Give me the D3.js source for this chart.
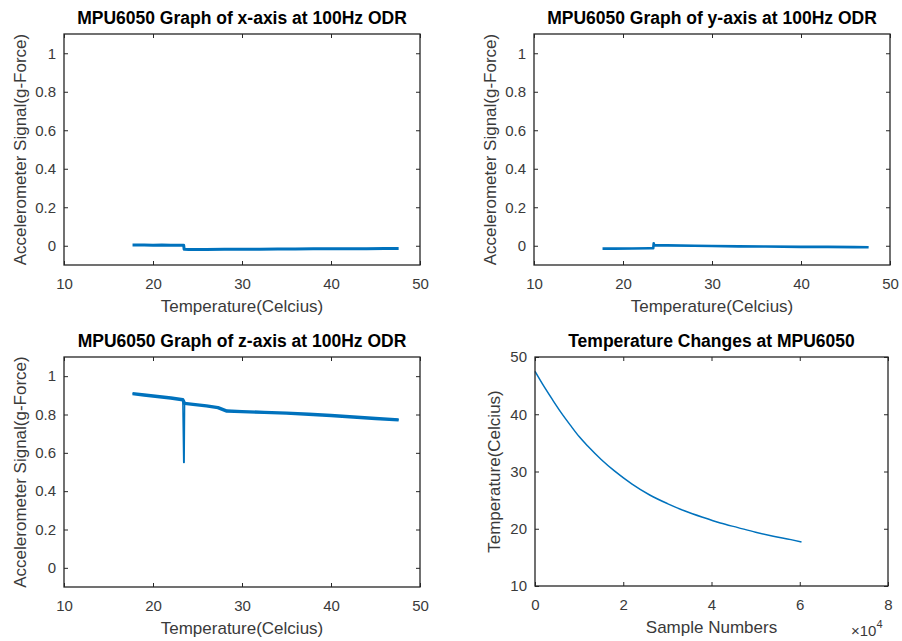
<!DOCTYPE html>
<html>
<head>
<meta charset="utf-8">
<script src="https://cdn.jsdelivr.net/npm/d3@7"></script>
<style>
  html, body { margin: 0; padding: 0; background: #fff; }
  svg { display: block; }
  text { font-family: "Liberation Sans", Arial, Helvetica, sans-serif; }
</style>
</head>
<body>
<svg id="chart" width="902" height="641"></svg>
<script>
// ---------- data ----------
const tempX = [17.7, 19, 20, 21, 22, 23, 23.45, 23.5, 24, 26, 28, 30, 32, 34, 36, 38, 40, 42, 44, 46, 47.6];
const valX  = [0.004, 0.004, 0.003, 0.004, 0.003, 0.002, 0.002, -0.018, -0.019, -0.019, -0.018, -0.018, -0.018, -0.017, -0.017, -0.016, -0.016, -0.015, -0.015, -0.014, -0.014];

const tempY = [17.7, 19, 21, 23, 23.4, 23.45, 23.5, 23.55, 25, 28, 30, 33, 36, 40, 43, 46, 47.6];
const valY  = [-0.015, -0.015, -0.014, -0.013, -0.013, 0.013, 0.002, 0.003, 0.002, 0.0, -0.001, -0.003, -0.004, -0.006, -0.006, -0.007, -0.008];

const tempZ = [17.7, 19, 20.5, 22, 23.35, 23.45, 23.5, 23.55, 24.5, 26, 27.3, 28.3, 30, 32.5, 35, 37.5, 40, 42.5, 45, 47.6];
const valZ  = [0.909, 0.902, 0.894, 0.886, 0.877, 0.55, 0.55, 0.858, 0.853, 0.845, 0.836, 0.818, 0.815, 0.811, 0.807, 0.801, 0.795, 0.787, 0.779, 0.772];

const sampleNums  = [0, 2000, 4000, 6000, 8000, 10000, 12000, 15000, 18000, 22000, 26000, 30000, 34000, 38000, 42000, 46000, 50000, 54000, 58000, 60400];
const sampleTemps = [47.5, 44.9, 42.5, 40.2, 38.1, 36.1, 34.4, 32.1, 30.1, 27.8, 25.9, 24.4, 23.1, 22.0, 21.0, 20.2, 19.4, 18.7, 18.1, 17.7];

const accelYTicks = [0, 0.2, 0.4, 0.6, 0.8, 1];
const tempXTicks = [10, 20, 30, 40, 50];
const sampleXTicks = [0, 20000, 40000, 60000, 80000];
const sampleXLabels = ["0", "2", "4", "6", "8"];
const tempYTicks = [10, 20, 30, 40, 50];

const titles = [
  "MPU6050 Graph of x-axis at 100Hz ODR",
  "MPU6050 Graph of y-axis at 100Hz ODR",
  "MPU6050 Graph of z-axis at 100Hz ODR",
  "Temperature Changes at MPU6050"
];
const accelLabel = "Accelerometer Signal(g-Force)";
const tempLabel = "Temperature(Celcius)";
const sampleLabel = "Sample Numbers";

// ---------- drawing ----------
const svg = d3.select("#chart");
const LINE = "#0072BD";
const AX = "#262626";

function panel(opt) {
  const g = svg.append("g");
  const x = d3.scaleLinear().domain(opt.xDomain).range([opt.x0, opt.x1]);
  const y = d3.scaleLinear().domain(opt.yDomain).range([opt.y1, opt.y0]);

  const pts = opt.xs.map((v, i) => [v, opt.ys[i]]);
  const line = d3.line().x(d => x(d[0])).y(d => y(d[1]));
  if (opt.curve) line.curve(opt.curve);

  // thin full trace
  g.append("path").datum(pts)
    .attr("d", line)
    .attr("fill", "none")
    .attr("stroke", LINE)
    .attr("stroke-width", opt.lw)
    .attr("stroke-linejoin", "round");

  // thicker noisy band (excluding transient spikes)
  if (opt.band) {
    const bandPts = pts.filter(opt.band.keep);
    g.append("path").datum(bandPts)
      .attr("d", line)
      .attr("fill", "none")
      .attr("stroke", LINE)
      .attr("stroke-width", opt.band.width)
      .attr("stroke-linejoin", "round")
      .attr("stroke-linecap", "butt");
  }

  const tickLen = 4;
  const bx = g.append("g").attr("transform", `translate(0,${opt.y1})`)
    .call(d3.axisBottom(x).tickValues(opt.xTicks).tickSize(-tickLen).tickPadding(13)
      .tickFormat((d, i) => opt.xLabels ? opt.xLabels[i] : String(d)));
  const tx = g.append("g").attr("transform", `translate(0,${opt.y0})`)
    .call(d3.axisTop(x).tickValues(opt.xTicks).tickSize(-tickLen).tickFormat(""));
  const ly = g.append("g").attr("transform", `translate(${opt.x0},0)`)
    .call(d3.axisLeft(y).tickValues(opt.yTicks).tickSize(-tickLen).tickPadding(8)
      .tickFormat(d => String(d)));
  const ry = g.append("g").attr("transform", `translate(${opt.x1},0)`)
    .call(d3.axisRight(y).tickValues(opt.yTicks).tickSize(-tickLen).tickFormat(""));

  [bx, tx, ly, ry].forEach(a => {
    a.select(".domain").remove();
    a.selectAll("line").attr("stroke", AX).attr("stroke-width", 1);
    a.selectAll("text").attr("fill", "#3a3a3a").style("font-size", "15px")
      .style("font-family", '"Liberation Sans", Arial, Helvetica, sans-serif');
  });

  g.append("rect")
    .attr("x", opt.x0).attr("y", opt.y0)
    .attr("width", opt.x1 - opt.x0).attr("height", opt.y1 - opt.y0)
    .attr("fill", "none").attr("stroke", AX).attr("stroke-width", 1.3);

  g.append("text")
    .attr("x", (opt.x0 + opt.x1) / 2).attr("y", opt.y0 - 10)
    .attr("text-anchor", "middle")
    .style("font-size", "17.5px").style("font-weight", "bold")
    .attr("fill", "#000")
    .text(opt.title);

  g.append("text")
    .attr("x", (opt.x0 + opt.x1) / 2).attr("y", opt.y1 + 47)
    .attr("text-anchor", "middle")
    .style("font-size", "17px").attr("fill", "#3a3a3a")
    .text(opt.xLabel);

  g.append("text")
    .attr("transform", `translate(${opt.yLabelX},${(opt.y0 + opt.y1) / 2}) rotate(-90)`)
    .attr("text-anchor", "middle")
    .style("font-size", "17px").attr("fill", "#3a3a3a")
    .text(opt.yLabel);

  return g;
}

panel({
  x0: 64, x1: 420, y0: 34, y1: 265,
  xDomain: [10, 50], yDomain: [-0.1, 1.1],
  xs: tempX, ys: valX, lw: 3,
  xTicks: tempXTicks, yTicks: accelYTicks,
  title: titles[0], xLabel: tempLabel, yLabel: accelLabel, yLabelX: 26
});

panel({
  x0: 534, x1: 890, y0: 34, y1: 265,
  xDomain: [10, 50], yDomain: [-0.1, 1.1],
  xs: tempY, ys: valY, lw: 2.6,
  xTicks: tempXTicks, yTicks: accelYTicks,
  title: titles[1], xLabel: tempLabel, yLabel: accelLabel, yLabelX: 496
});

panel({
  x0: 64, x1: 420, y0: 357, y1: 587,
  xDomain: [10, 50], yDomain: [-0.1, 1.1],
  xs: tempZ, ys: valZ, lw: 1.5,
  band: { width: 3.4, keep: d => d[1] > 0.6 },
  xTicks: tempXTicks, yTicks: accelYTicks,
  title: titles[2], xLabel: tempLabel, yLabel: accelLabel, yLabelX: 26
});

const br = panel({
  x0: 535, x1: 888, y0: 357, y1: 586,
  xDomain: [0, 80000], yDomain: [10, 50],
  xs: sampleNums, ys: sampleTemps, lw: 1.5, curve: d3.curveMonotoneX,
  xTicks: sampleXTicks, xLabels: sampleXLabels, yTicks: tempYTicks,
  title: titles[3], xLabel: sampleLabel, yLabel: tempLabel, yLabelX: 500
});

const exp = br.append("text")
  .attr("x", 851).attr("y", 636)
  .style("font-size", "15px").attr("fill", "#3a3a3a");
exp.append("tspan").text("\u00d710");
exp.append("tspan").attr("dy", -8).style("font-size", "11px").text("4");
</script>
</body>
</html>
